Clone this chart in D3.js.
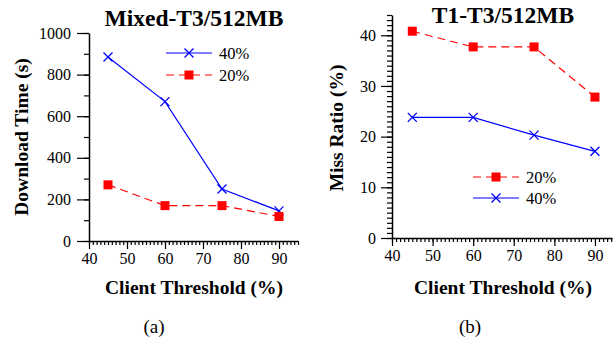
<!DOCTYPE html>
<html><head><meta charset="utf-8">
<script src="https://cdn.jsdelivr.net/npm/d3@7/dist/d3.min.js"></script>
<style>body{margin:0;background:#fff}svg{display:block}</style>
</head><body>
<svg id="c" width="613" height="341"></svg>
<script>
const xs = [45, 60, 75, 90];
const dlTime40 = [885, 670, 250, 145];
const dlTime20 = [270, 170, 170, 118];
const miss20 = [40.8, 37.7, 37.7, 27.8];
const miss40 = [23.8, 23.8, 20.3, 17.1];
const xTicks = [40, 50, 60, 70, 80, 90];
const yTicksA = [0, 200, 400, 600, 800, 1000];
const yTicksB = [0, 10, 20, 30, 40];

const FONT = "'Liberation Serif', 'Times New Roman', Times, 'DejaVu Serif', serif";
const svg = d3.select("#c").attr("font-family", FONT);
const BLUE = "#0000ff", RED = "#ff0000";

function panel(o) {
  const g = svg.append("g");
  const x = d3.scaleLinear().domain([40, o.xMax]).range([o.x0, o.x1]);
  const y = d3.scaleLinear().domain([0, o.yMax]).range([o.y0, o.y1]);
  const xAxMinor = d3.axisBottom(x).tickValues(d3.range(40, o.xMax + 0.01, 1)).tickSize(4).tickFormat("");
  const gxm = g.append("g").attr("transform", `translate(0,${o.y0})`).call(xAxMinor);
  gxm.select(".domain").remove();
  const xAx = d3.axisBottom(x).tickValues(xTicks).tickSize(8).tickSizeOuter(0).tickPadding(4).tickFormat(d3.format("d"));
  const gx = g.append("g").attr("transform", `translate(0,${o.y0})`).call(xAx);
  gx.select(".domain").attr("stroke-width", 1.5);
  const yAxMinor = d3.axisLeft(y).tickValues(o.yMinor).tickSize(5).tickFormat("");
  const gym = g.append("g").attr("transform", `translate(${o.x0},0)`).call(yAxMinor);
  gym.select(".domain").remove();
  const yAx = d3.axisLeft(y).tickValues(o.yTicks).tickSize(o.yTick).tickSizeOuter(0).tickPadding(o.yPad).tickFormat(d3.format("d"));
  const gy = g.append("g").attr("transform", `translate(${o.x0},0)`).call(yAx);
  gy.select(".domain").attr("stroke-width", 1.5);
  g.selectAll("g").attr("font-family", FONT).attr("font-size", 16);
  g.selectAll(".tick text").attr("fill", "#000").attr("font-family", FONT).attr("font-size", 16);
  g.selectAll(".tick line").attr("stroke", "#000").attr("stroke-width", 1.2);
  g.selectAll("path.domain").attr("stroke", "#000");

  o.series.forEach(s => {
    const line = d3.line().x((d, i) => x(xs[i])).y(d => y(d));
    g.append("path").datum(s.vals).attr("d", line).attr("fill", "none")
      .attr("stroke", s.color).attr("stroke-width", 1.2)
      .attr("stroke-dasharray", s.dash || null);
    s.vals.forEach((v, i) => marker(g, x(xs[i]), y(v), s));
  });
  o.series.forEach((s, k) => {
    const ly = o.legY + k * o.legDy;
    g.append("line").attr("x1", o.legX).attr("x2", o.legX + 46).attr("y1", ly).attr("y2", ly)
      .attr("stroke", s.color).attr("stroke-width", 1.2).attr("stroke-dasharray", s.dash || null);
    marker(g, o.legX + 23, ly, s);
    g.append("text").attr("x", o.legX + 53).attr("y", ly + 6).attr("font-size", 16.5).text(s.name);
  });
  g.append("text").attr("x", o.titleX).attr("y", o.titleY).attr("text-anchor", "middle")
    .attr("font-size", 23.5).attr("font-weight", "bold").text(o.title);
  g.append("text").attr("x", o.xlabX).attr("y", 294).attr("text-anchor", "middle")
    .attr("font-size", 19.5).attr("font-weight", "bold").text("Client Threshold (%)");
  g.append("text").attr("transform", `translate(${o.ylabX},${o.ylabY}) rotate(-90)`).attr("text-anchor", "middle")
    .attr("font-size", 19.5).attr("font-weight", "bold").text(o.ylabel);
  g.append("text").attr("x", o.subX).attr("y", 333).attr("text-anchor", "middle")
    .attr("font-size", 19).text(o.sub);
}

function marker(g, cx, cy, s) {
  if (s.shape === "square") {
    g.append("rect").attr("x", cx - 4.5).attr("y", cy - 4.5).attr("width", 9).attr("height", 9).attr("fill", s.color);
  } else {
    const r = 4.5;
    g.append("path").attr("d", `M${cx - r},${cy - r}L${cx + r},${cy + r}M${cx - r},${cy + r}L${cx + r},${cy - r}`)
      .attr("stroke", s.color).attr("stroke-width", 1.3).attr("fill", "none");
  }
}

panel({
  x0: 89, x1: 298, xMax: 95, y0: 241, y1: 33, yMax: 1000,
  yTicks: yTicksA, yMinor: d3.range(0, 1001, 100), yTick: 12, yPad: 6,
  series: [
    {name: "40%", vals: dlTime40, color: BLUE, shape: "x"},
    {name: "20%", vals: dlTime20, color: RED, shape: "square", dash: "8,5"}
  ],
  legX: 166, legY: 53, legDy: 22,
  title: "Mixed-T3/512MB", titleX: 194, titleY: 26, xlabX: 194, ylabX: 28, ylabY: 137,
  ylabel: "Download Time (s)", sub: "(a)", subX: 154
});
panel({
  x0: 392, x1: 612, xMax: 94.2, y0: 238, y1: 15, yMax: 44,
  yTicks: yTicksB, yMinor: d3.range(0, 45, 1), yTick: 11, yPad: 5,
  series: [
    {name: "20%", vals: miss20, color: RED, shape: "square", dash: "8,5"},
    {name: "40%", vals: miss40, color: BLUE, shape: "x"}
  ],
  legX: 473, legY: 177, legDy: 21,
  title: "T1-T3/512MB", titleX: 503, titleY: 23, xlabX: 503, ylabX: 343, ylabY: 128,
  ylabel: "Miss Ratio (%)", sub: "(b)", subX: 470
});
</script>
</body></html>
